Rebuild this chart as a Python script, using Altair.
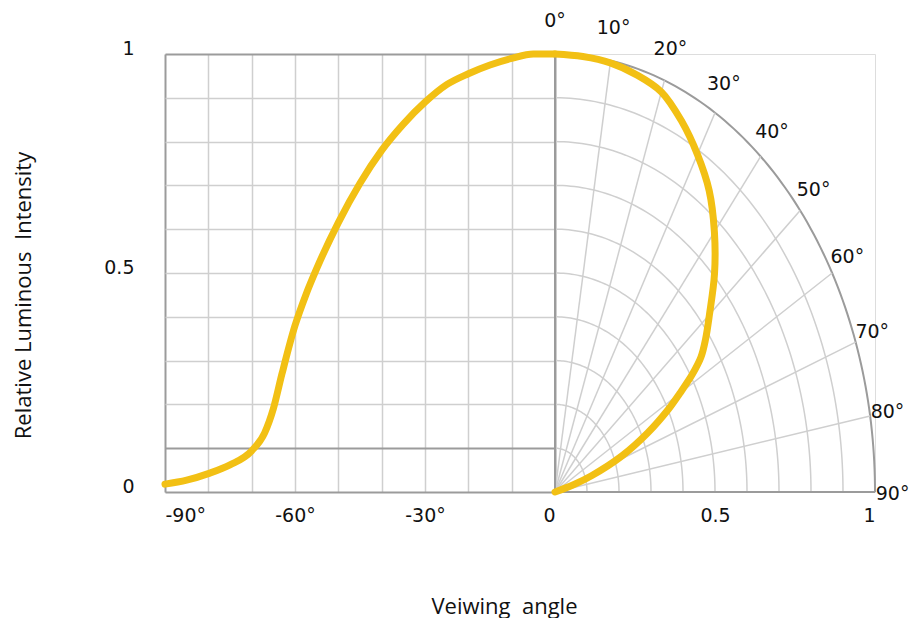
import altair as alt
import pandas as pd

# ---------------- data ----------------
# Left panel: relative intensity vs viewing angle (cartesian, -90..0 deg)
LEFT_ANGLE = [-90, -85, -80, -75, -70, -67, -65, -63, -60, -57.5, -55, -50,
              -45, -40, -35, -30, -25, -20, -15, -10, -5, 0]
LEFT_INTENSITY = [0.018, 0.027, 0.042, 0.062, 0.094, 0.135, 0.19, 0.27, 0.38,
                  0.45, 0.51, 0.615, 0.705, 0.78, 0.84, 0.89, 0.93, 0.955,
                  0.975, 0.99, 1.0, 1.0]

# Right panel: same pattern drawn in polar form (angle deg, radius)
POLAR_ANGLE = [0, 5, 10, 15, 20, 25, 30, 35, 40, 45, 50, 53.5, 56, 58, 60,
               62, 65, 68.5, 72, 74, 76]
POLAR_R = [1.0, 0.998, 0.995, 0.986, 0.972, 0.935, 0.89, 0.84, 0.775, 0.705,
           0.63, 0.585, 0.55, 0.505, 0.45, 0.40, 0.32, 0.225, 0.12, 0.06, 0.0]

# grid / tick definitions
X_GRID_ANGLES = [-90, -80, -70, -60, -50, -40, -30, -20, -10, 0]
Y_GRID_LEVELS = [0, 0.1, 0.2, 0.3, 0.4, 0.5, 0.6, 0.7, 0.8, 0.9, 1]
RING_RADII = [0.1, 0.2, 0.3, 0.4, 0.5, 0.6, 0.7, 0.8, 0.9]
OUTER_RADIUS = [1.0]
SPOKE_ANGLES = [10, 20, 30, 40, 50, 60, 70, 80]
EDGE_ANGLES = [0, 90]
ANGLE_LABELS = [0, 10, 20, 30, 40, 50, 60, 70, 80, 90]
RADIAL_TICKS = [0.5, 1]
ARC_STEPS = list(range(0, 91))

# ---------------- styles ----------------
YELLOW = "#F2C014"
GRID = "#cfcfcf"
EDGE = "#9b9b9b"
INK = "#111111"
LABEL_FONT = "DejaVu Sans"
TITLE_FONT = "Open Sans"
LABEL_SIZE = 19
TITLE_SIZE = 22

left_df = pd.DataFrame({"angle": LEFT_ANGLE, "intensity": LEFT_INTENSITY})
polar_df = pd.DataFrame({"theta": POLAR_ANGLE, "r": POLAR_R})
ring_df = pd.DataFrame([{"ring": r, "t": t} for r in RING_RADII for t in ARC_STEPS])
outer_df = pd.DataFrame([{"ring": r, "t": t} for r in OUTER_RADIUS for t in ARC_STEPS])
spoke_df = pd.DataFrame({"theta": SPOKE_ANGLES})
edge_df = pd.DataFrame({"theta": EDGE_ANGLES})
label_df = pd.DataFrame({"theta": ANGLE_LABELS})

# ---------------- left (cartesian) panel ----------------
edge_x = "datum.value == -90 || datum.value == 0"
edge_y = "datum.value == 0 || datum.value == 0.1 || datum.value == 1"

left = alt.Chart(left_df).mark_line(
    color=YELLOW, strokeWidth=7, interpolate="monotone",
    strokeCap="round", strokeJoin="round"
).encode(
    x=alt.X("angle:Q",
            scale=alt.Scale(domain=[-90, 0], nice=False, zero=False),
            axis=alt.Axis(
                values=X_GRID_ANGLES,
                labelExpr="datum.value == 0 ? '0' : (datum.value % 30 == 0 ? datum.value + '°' : '')",
                grid=True,
                gridColor={"condition": {"test": edge_x, "value": EDGE}, "value": GRID},
                gridWidth={"condition": {"test": edge_x, "value": 2}, "value": 1.5},
                ticks=False, tickSize=0, domain=False,
                labelPadding=14, labelFont=LABEL_FONT, labelFontSize=LABEL_SIZE,
                labelColor=INK,
                title="Veiwing\u00a0 angle", titleX=339, titleY=121,
                titleBaseline="alphabetic", titleFont=TITLE_FONT,
                titleFontSize=TITLE_SIZE, titleFontWeight="normal", titleColor=INK)),
    y=alt.Y("intensity:Q",
            scale=alt.Scale(domain=[0, 1], nice=False, zero=False),
            axis=alt.Axis(
                values=Y_GRID_LEVELS,
                labelExpr="datum.value == 0.5 ? '0.5' : (datum.value == 0 ? '0' : (datum.value == 1 ? '1' : ''))",
                grid=True,
                gridColor={"condition": {"test": edge_y, "value": EDGE}, "value": GRID},
                gridWidth={"condition": {"test": edge_y, "value": 2}, "value": 1.5},
                ticks=False, tickSize=0, domain=False,
                labelPadding=31, labelBaseline="alphabetic",
                labelFont=LABEL_FONT, labelFontSize=LABEL_SIZE, labelColor=INK,
                title="Relative Luminous\u00a0 Intensity", titleX=-135, titleY=241,
                titleBaseline="alphabetic", titleFont=TITLE_FONT,
                titleFontSize=TITLE_SIZE, titleFontWeight="normal", titleColor=INK)),
).properties(width=390, height=438)

# ---------------- right (polar) panel ----------------
right_axis = alt.Axis(values=RADIAL_TICKS,
                      labelExpr="datum.value == 1 ? '1' : '0.5'",
                      grid=False, ticks=False, tickSize=0, domain=False,
                      labelPadding=14, labelFont=LABEL_FONT,
                      labelFontSize=LABEL_SIZE, labelColor=INK)
xs = alt.Scale(domain=[0, 1], nice=False, zero=False)
ys = alt.Scale(domain=[0, 1], nice=False, zero=False)


def X(field):
    return alt.X(field, scale=xs, axis=right_axis, title=None)


def Y(field):
    return alt.Y(field, scale=ys, axis=None)


polar_xy = dict(px="datum.ring * sin(datum.t * PI / 180)",
                py="datum.ring * cos(datum.t * PI / 180)")

rings = alt.Chart(ring_df).transform_calculate(**polar_xy).mark_line(
    color=GRID, strokeWidth=1.5
).encode(x=X("px:Q"), y=Y("py:Q"), detail="ring:N", order="t:Q")

outer = alt.Chart(outer_df).transform_calculate(**polar_xy).mark_line(
    color=EDGE, strokeWidth=2
).encode(x=X("px:Q"), y=Y("py:Q"), detail="ring:N", order="t:Q")

spoke_xy = dict(x0="0", y0="0",
                px="sin(datum.theta * PI / 180)",
                py="cos(datum.theta * PI / 180)")

spokes = alt.Chart(spoke_df).transform_calculate(**spoke_xy).mark_rule(
    color=GRID, strokeWidth=1.5
).encode(x=X("x0:Q"), y=Y("y0:Q"), x2="px:Q", y2="py:Q")

edges = alt.Chart(edge_df).transform_calculate(**spoke_xy).mark_rule(
    color=EDGE, strokeWidth=2
).encode(x=X("x0:Q"), y=Y("y0:Q"), x2="px:Q", y2="py:Q")

curve = alt.Chart(polar_df).transform_calculate(
    px="datum.r * sin(datum.theta * PI / 180)",
    py="datum.r * cos(datum.theta * PI / 180)"
).mark_line(
    color=YELLOW, strokeWidth=7, interpolate="catmull-rom",
    strokeCap="round", strokeJoin="round"
).encode(x=X("px:Q"), y=Y("py:Q"), order="theta:Q")

angle_labels = alt.Chart(label_df).transform_calculate(
    px="1.055 * sin(datum.theta * PI / 180)",
    py="1.08 * cos(datum.theta * PI / 180)",
    txt="datum.theta + '°'"
).mark_text(
    font=LABEL_FONT, fontSize=LABEL_SIZE, color=INK, dy=2,
    align="center", baseline="middle"
).encode(x=X("px:Q"), y=Y("py:Q"), text="txt:N")

right = alt.layer(rings, outer, spokes, edges, curve, angle_labels).properties(
    width=320, height=438)

chart = alt.hconcat(left, right, spacing=0, bounds="flush").properties(
    padding={"left": 3, "right": 0, "top": 3, "bottom": 0}
).configure_view(stroke="transparent").configure(background="white")

chart.save("out.html", embed_options={"renderer": "svg", "actions": False})
